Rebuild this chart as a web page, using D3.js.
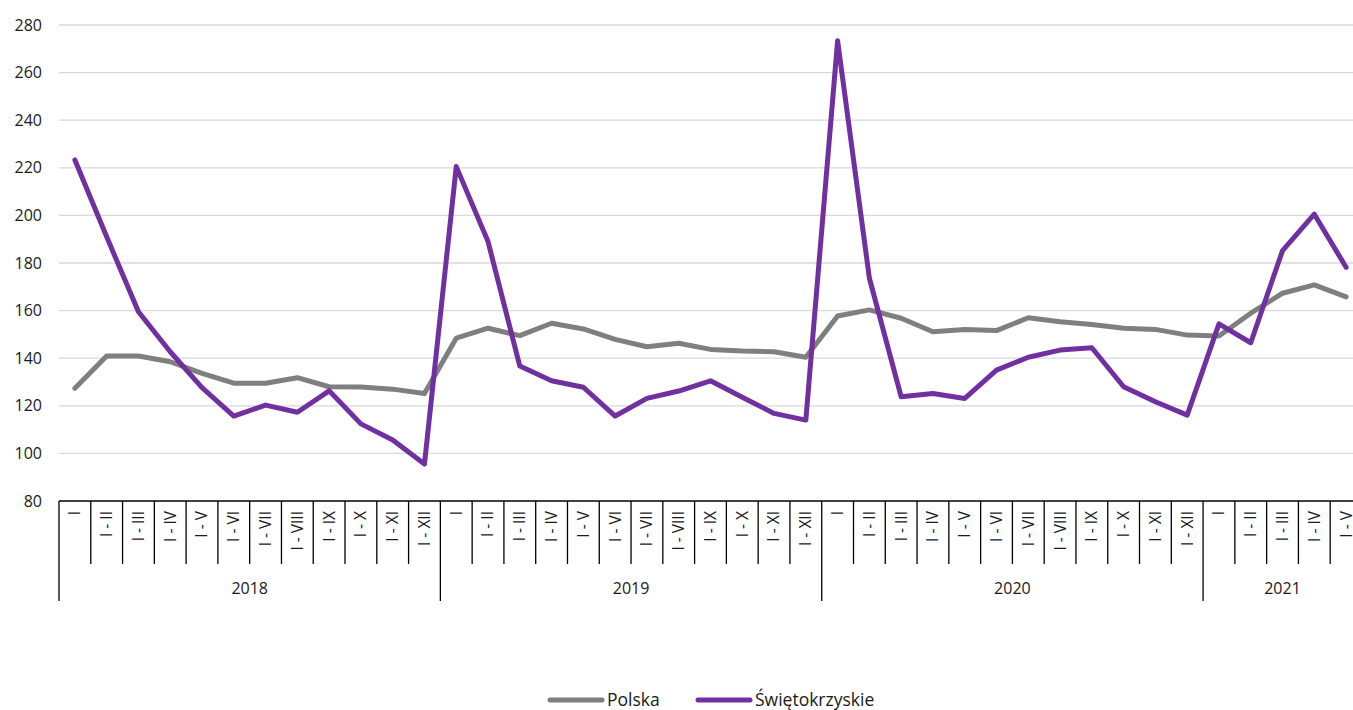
<!DOCTYPE html>
<html>
<head>
<meta charset="utf-8">
<script src="https://cdn.jsdelivr.net/npm/d3@7"></script>
<style>
  body { margin: 0; background: #fff; overflow: hidden; }
  text { font-family: "Open Sans", "Noto Sans", sans-serif; fill: #1a1a1a; }
</style>
</head>
<body>
<div id="chart"></div>
<script>
// month labels per year (cumulative periods)
const years = ["2018", "2019", "2020", "2021"];
const monthsPerYear = [12, 12, 12, 5];
const monthLabels = ["I", "I - II", "I - III", "I - IV", "I - V", "I - VI", "I - VII", "I - VIII", "I - IX", "I - X", "I - XI", "I - XII"];

const polska = [127.4, 140.9, 140.9, 138.5, 133.6, 129.5, 129.5, 131.8, 128.0, 127.9, 127.0, 125.2,
  148.4, 152.6, 149.5, 154.7, 152.3, 147.9, 144.8, 146.3, 143.7, 143.0, 142.7, 140.4,
  157.7, 160.3, 156.8, 151.1, 152.1, 151.6, 157.0, 155.3, 154.2, 152.6, 152.1, 149.7,
  149.3, 158.9, 167.3, 170.8, 165.8];
const swietokrzyskie = [223.3, 191.0, 159.5, 142.7, 127.6, 115.7, 120.3, 117.3, 126.3, 112.4, 105.6, 95.5,
  220.5, 189.0, 136.7, 130.5, 127.8, 115.7, 123.1, 126.2, 130.5, 123.6, 116.8, 114.0,
  273.4, 173.6, 123.8, 125.2, 123.1, 135.0, 140.4, 143.4, 144.4, 128.0, 121.7, 116.1,
  154.4, 146.5, 185.2, 200.5, 178.2];
const yTicks = [80, 100, 120, 140, 160, 180, 200, 220, 240, 260, 280];

const seriesNames = ["Polska", "Świętokrzyskie"];
const colors = ["#7f7f7f", "#7030a0"];

const W = 1353, H = 710;
const plotLeft = 59, plotTop = 25, plotBottom = 501;
const bw = 31.78;

// build category list
const cats = [];
years.forEach((yr, yi) => {
  for (let m = 0; m < monthsPerYear[yi]; m++) cats.push({ year: yr, label: monthLabels[m] });
});

const x = d3.scaleBand().domain(d3.range(cats.length)).range([plotLeft, plotLeft + bw * cats.length]).padding(0);
const y = d3.scaleLinear().domain([80, 280]).range([plotBottom, plotTop]);

const svg = d3.select("#chart").append("svg")
  .attr("width", W)
  .attr("height", H);

// gridlines
svg.append("g")
  .selectAll("line")
  .data(yTicks.filter(d => d > 80))
  .enter().append("line")
  .attr("x1", plotLeft)
  .attr("x2", W)
  .attr("y1", d => y(d))
  .attr("y2", d => y(d))
  .attr("stroke", "#d9d9d9")
  .attr("stroke-width", 1.3);

// y labels
svg.append("g")
  .selectAll("text")
  .data(yTicks)
  .enter().append("text")
  .attr("x", 42)
  .attr("y", d => y(d))
  .attr("dy", "0.35em")
  .attr("text-anchor", "end")
  .style("font-size", "16px")
  .text(d => d);

// x axis line
svg.append("line")
  .attr("x1", plotLeft)
  .attr("x2", W)
  .attr("y1", plotBottom)
  .attr("y2", plotBottom)
  .attr("stroke", "#000")
  .attr("stroke-width", 1.6);

// category separators
const yearStarts = [0];
monthsPerYear.forEach((n, i) => yearStarts.push(yearStarts[i] + n));
svg.append("g")
  .selectAll("line")
  .data(d3.range(cats.length + 1))
  .enter().append("line")
  .attr("x1", i => plotLeft + i * bw)
  .attr("x2", i => plotLeft + i * bw)
  .attr("y1", plotBottom)
  .attr("y2", i => yearStarts.includes(i) ? 601 : 564)
  .attr("stroke", "#000")
  .attr("stroke-width", 1.3);

// month labels, rotated
svg.append("g")
  .selectAll("text")
  .data(cats)
  .enter().append("text")
  .attr("transform", (d, i) => "translate(" + (x(i) + x.bandwidth() / 2) + "," + (plotBottom + 10) + ") rotate(-90)")
  .attr("dy", "0.35em")
  .attr("text-anchor", "end")
  .style("font-size", "15.5px")
  .text(d => d.label);

// year labels
svg.append("g")
  .selectAll("text")
  .data(years)
  .enter().append("text")
  .attr("x", (d, i) => plotLeft + (yearStarts[i] + yearStarts[i + 1]) / 2 * bw)
  .attr("y", 588)
  .attr("dy", "0.35em")
  .attr("text-anchor", "middle")
  .style("font-size", "16px")
  .text(d => d);

// lines
const line = d3.line()
  .x((d, i) => x(i) + x.bandwidth() / 2)
  .y(d => y(d));

[polska, swietokrzyskie].forEach((s, k) => {
  svg.append("path")
    .datum(s)
    .attr("d", line)
    .attr("fill", "none")
    .attr("stroke", colors[k])
    .attr("stroke-width", 5)
    .attr("stroke-linejoin", "round")
    .attr("stroke-linecap", "round");
});

// legend
const legendItems = [{ x: 550, name: seriesNames[0], c: colors[0] }, { x: 698, name: seriesNames[1], c: colors[1] }];
const lg = svg.append("g");
legendItems.forEach(it => {
  lg.append("line")
    .attr("x1", it.x).attr("x2", it.x + 52)
    .attr("y1", 700).attr("y2", 700)
    .attr("stroke", it.c)
    .attr("stroke-width", 5)
    .attr("stroke-linecap", "round");
  lg.append("text")
    .attr("x", it.x + 57)
    .attr("y", 700)
    .attr("dy", "0.35em")
    .style("font-size", "17.5px")
    .text(it.name);
});
</script>
</body>
</html>
